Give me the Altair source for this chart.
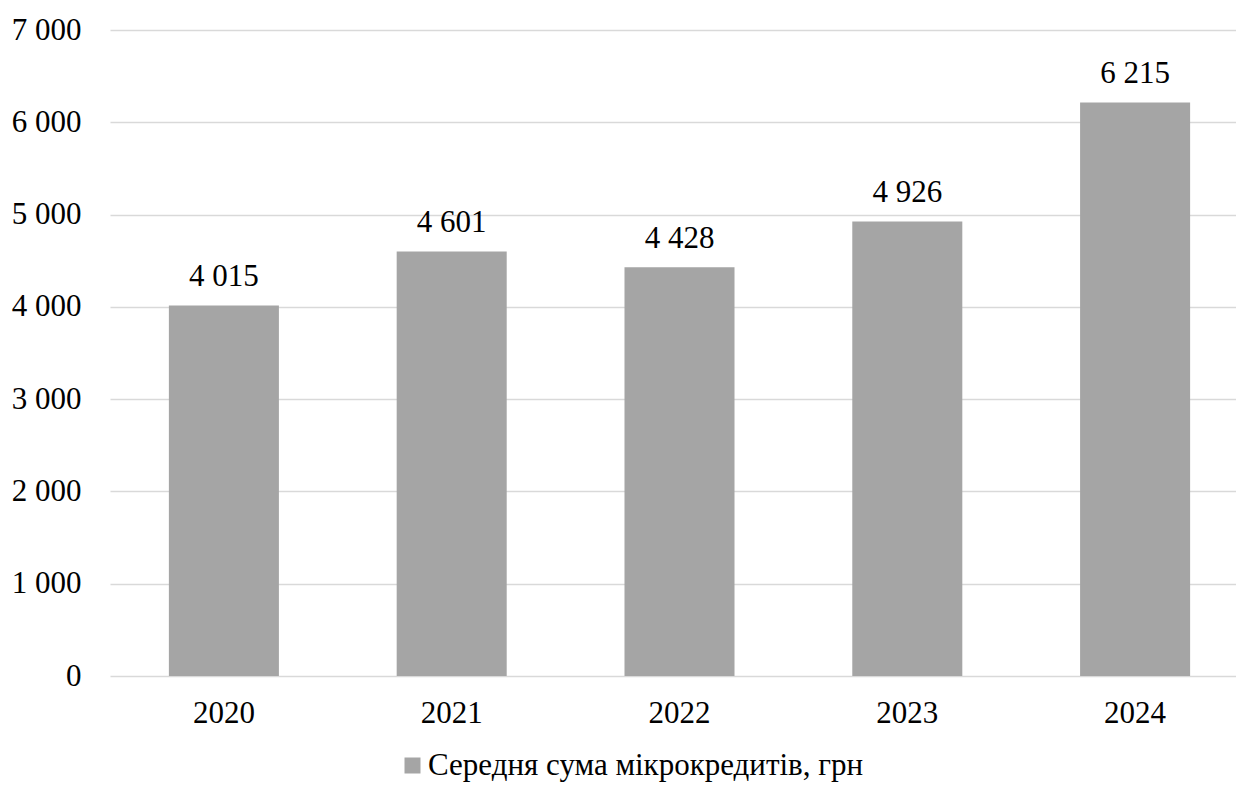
import altair as alt
import pandas as pd

years = ["2020", "2021", "2022", "2023", "2024"]
values = [4015, 4601, 4428, 4926, 6215]
series_name = "Середня сума мікрокредитів, грн"
y_ticks = [0, 1000, 2000, 3000, 4000, 5000, 6000, 7000]

df = pd.DataFrame({"year": years, "value": values, "series": [series_name] * len(years)})
df["label"] = [f"{v:,}".replace(",", " ") for v in values]

FONT = "'Liberation Serif', 'Times New Roman', Times, serif"

x = alt.X(
    "year:N",
    title=None,
    sort=years,
    scale=alt.Scale(range=[0, 1139], paddingInner=0.517, paddingOuter=0.2585),
    axis=alt.Axis(labelAngle=0, domain=False, ticks=False, labelPadding=22,
                  labelFontSize=31, labelFont=FONT, labelColor="black", grid=False),
)
y = alt.Y(
    "value:Q",
    title=None,
    scale=alt.Scale(domain=[0, 7000], nice=False),
    axis=alt.Axis(values=y_ticks, domain=False, ticks=False, labelPadding=29,
                  labelFontSize=31, labelFont=FONT, labelColor="black",
                  gridColor="#D9D9D9", gridWidth=1.4,
                  labelExpr="replace(format(datum.value, ','), ',', ' ')"),
)

bars = alt.Chart(df).mark_bar(color="#A5A5A5").encode(
    x=x,
    y=y,
    color=alt.Color(
        "series:N",
        scale=alt.Scale(range=["#A5A5A5"]),
        legend=alt.Legend(
            title=None, orient="none", legendX=287, legendY=720,
            symbolType="square", symbolSize=256, symbolStrokeWidth=0,
            labelFontSize=31, labelFont=FONT, labelColor="black", labelOffset=0,
            labelLimit=800,
        ),
    ),
)

texts = alt.Chart(df).mark_text(
    font=FONT, fontSize=31, color="black", baseline="alphabetic", dy=-19
).encode(x=x, y=y, text="label:N")

chart = (
    (bars + texts)
    .properties(
        width=1126,
        height=646,
        autosize=alt.AutoSizeParams(type="none"),
        padding={"left": 110, "top": 30, "right": 0, "bottom": 115},
    )
    .configure(background="white", font=FONT)
    .configure_view(stroke="transparent", strokeWidth=0)
)

chart.save("out.html", embed_options={"renderer": "svg", "actions": False})
